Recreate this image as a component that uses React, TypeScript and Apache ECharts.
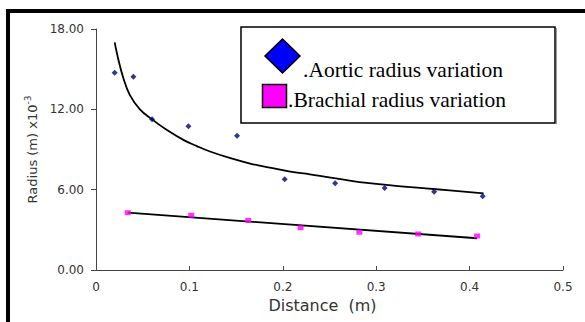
import React, { useEffect, useRef } from "react";
import * as echarts from "echarts";

// Aortic radius data (distance m, radius x10^-3 m)
const aorticX = [0.02, 0.04, 0.06, 0.099, 0.151, 0.202, 0.256, 0.309, 0.362, 0.414];
const aorticY = [14.74, 14.44, 11.26, 10.74, 10.03, 6.78, 6.48, 6.13, 5.85, 5.51];

// Brachial radius data
const brachialX = [0.034, 0.102, 0.163, 0.219, 0.282, 0.345, 0.408];
const brachialY = [4.28, 4.09, 3.71, 3.16, 2.82, 2.69, 2.54];

// Aortic trend curve
const aorticTrendX = [0.02, 0.024, 0.029, 0.036, 0.047, 0.06, 0.076, 0.094, 0.108, 0.122, 0.144, 0.165, 0.186, 0.208, 0.229, 0.29, 0.361, 0.415];
const aorticTrendY = [17.0, 15.7, 14.4, 13.1, 12.0, 11.25, 10.45, 9.7, 9.25, 8.85, 8.35, 7.95, 7.65, 7.35, 7.15, 6.5, 6.05, 5.73];

// Brachial trend line
const brachialTrendX = [0.034, 0.408];
const brachialTrendY = [4.28, 2.37];

const yTicks = [0, 6, 12, 18];
const xTicks = [0, 0.1, 0.2, 0.3, 0.4, 0.5];

const legendNames = [".Aortic radius variation", ".Brachial radius variation"];

const zip = (xs: number[], ys: number[]) => xs.map((x, i) => [x, ys[i]]);

export default function App() {
  const ref = useRef<HTMLDivElement>(null);
  useEffect(() => {
    if (!ref.current) return;
    const chart = echarts.init(ref.current, null, { renderer: "svg" });
    const labelStyle = { fontFamily: "DejaVu Sans", fontSize: 12, color: "#333" };
    chart.setOption({
      animation: false,
      backgroundColor: "#fff",
      grid: { left: 96, right: 22, top: 29, bottom: 52 },
      xAxis: {
        type: "value",
        min: xTicks[0],
        max: xTicks[xTicks.length - 1],
        interval: 0.1,
        name: "Distance  (m)",
        nameLocation: "middle",
        nameGap: 26,
        nameTextStyle: { fontFamily: "DejaVu Sans", fontSize: 16, color: "#333", padding: [0, 14, 0, 0] },
        axisLine: { lineStyle: { color: "#444", width: 1 } },
        axisTick: { inside: true, length: 4, lineStyle: { color: "#444" } },
        axisLabel: { ...labelStyle, margin: 11, formatter: (v: number) => (v === 0 ? "0" : String(+v.toFixed(1))) },
        splitLine: { show: false },
      },
      yAxis: {
        type: "value",
        min: yTicks[0],
        max: yTicks[yTicks.length - 1],
        interval: 6,
        name: "Radius (m) x10{sup|-3}",
        nameLocation: "middle",
        nameGap: 52,
        nameRotate: 90,
        nameTextStyle: {
          fontFamily: "DejaVu Sans",
          fontSize: 13,
          color: "#333",
          rich: { sup: { fontFamily: "DejaVu Sans", fontSize: 9, color: "#333", padding: [0, 0, 8, 0] } },
        },
        axisLine: { show: true, lineStyle: { color: "#444", width: 1 } },
        axisTick: { show: true, length: 5, lineStyle: { color: "#444" } },
        axisLabel: { ...labelStyle, margin: 12, formatter: (v: number) => v.toFixed(2) },
        splitLine: { show: false },
      },
      series: [
        {
          type: "line",
          data: zip(aorticTrendX, aorticTrendY),
          smooth: 0.4,
          showSymbol: false,
          lineStyle: { color: "#000", width: 1.8 },
          z: 2,
        },
        {
          type: "line",
          data: zip(brachialTrendX, brachialTrendY),
          showSymbol: false,
          lineStyle: { color: "#000", width: 1.8 },
          z: 2,
        },
        {
          name: legendNames[0],
          type: "scatter",
          data: zip(aorticX, aorticY),
          symbol: "diamond",
          symbolSize: 6,
          itemStyle: { color: "#000080" },
          z: 3,
        },
        {
          name: legendNames[1],
          type: "scatter",
          data: zip(brachialX, brachialY),
          symbol: "rect",
          symbolSize: [6, 5],
          itemStyle: { color: "#FF00FF" },
          z: 3,
        },
      ],
      graphic: [
        {
          type: "rect",
          shape: { x: 8, y: 11, width: 700, height: 500 },
          style: { fill: "none", stroke: "#000", lineWidth: 4 },
          silent: true,
        },
        {
          type: "line",
          shape: { x1: 556.5, y1: 28, x2: 556.5, y2: 124 },
          style: { stroke: "#999", lineWidth: 1 },
        },
        {
          type: "rect",
          shape: { x: 241, y: 27, width: 314, height: 96 },
          style: { fill: "#fff", stroke: "#000", lineWidth: 1.5 },
        },
        {
          type: "polygon",
          shape: { points: [[282.5, 39], [300, 56], [282.5, 73], [265, 56]] },
          style: { fill: "#0000FF", stroke: "#000", lineWidth: 1.5 },
        },
        {
          type: "rect",
          shape: { x: 262.5, y: 84.5, width: 24, height: 23 },
          style: { fill: "#FF00FF", stroke: "#000", lineWidth: 1.5 },
        },
        {
          type: "text",
          x: 303,
          y: 70,
          style: { text: legendNames[0], fontFamily: "Liberation Serif", fontSize: 21.5, fill: "#000", verticalAlign: "middle" },
        },
        {
          type: "text",
          x: 288,
          y: 100,
          style: { text: legendNames[1], fontFamily: "Liberation Serif", fontSize: 21.5, fill: "#000", verticalAlign: "middle" },
        },
      ],
    });
    return () => chart.dispose();
  }, []);
  return <div ref={ref} style={{ position: "fixed", left: 0, top: 0, width: 585, height: 322 }} />;
}
